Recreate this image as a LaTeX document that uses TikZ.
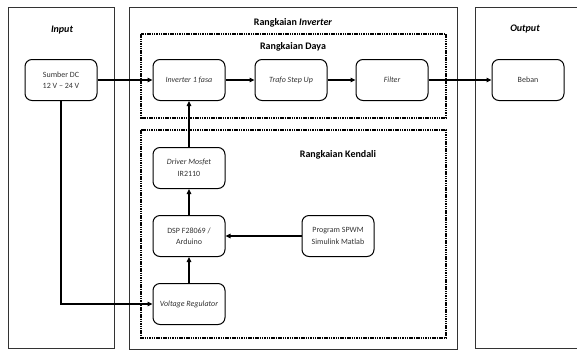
\documentclass[tikz,border=0pt]{standalone}
\usepackage{fontspec}
\setmainfont{Carlito}
\usetikzlibrary{arrows.meta}
\begin{document}
\begin{tikzpicture}[x=1pt,y=-1pt,
  panel/.style={draw=black!80, line width=1pt},
  group/.style={draw=black, line width=1.8pt, dash pattern=on 1.5pt off 0.8pt},
  blk/.style={draw=black, line width=1pt, rounded corners=7pt, minimum width=72pt, minimum height=41pt, align=center, font=\fontsize{8}{11.5}\selectfont, text=black!80},
  ttl/.style={font=\bfseries\fontsize{10}{12}\selectfont},
  arr/.style={draw=black, line width=1.2pt, -{Triangle[length=5pt,width=4.5pt]}}]
\useasboundingbox (0,0) rectangle (577,351);
\clip (0,0) rectangle (577,351);
% panels
\draw[panel] (8,7) rectangle (114,348);
\draw[panel] (129,7) rectangle (457,349);
\draw[panel] (475,7) rectangle (590,348);
% dashed groups
\draw[group] (141,34) rectangle (446,118);
\draw[group] (141,130) rectangle (446,338);
% titles
\node[ttl] (tin) at (62,30) {\itshape Input};
\node[ttl] (tinv) at (293,23) {Rangkaian \textit{Inverter}};
\node[ttl] (tout) at (525,29) {\itshape Output};
\node[ttl] (tdaya) at (293,47) {Rangkaian Daya};
\node[ttl] (tkend) at (338,155) {Rangkaian Kendali};
% blocks
\node[blk] (dc) at (61,80) {Sumber DC\\12 V -- 24 V};
\node[blk] (inv) at (189,80) {\itshape Inverter 1 fasa};
\node[blk] (trafo) at (291,80) {\itshape Trafo Step Up};
\node[blk] (filt) at (392,80) {\itshape Filter};
\node[blk] (beban) at (528,80) {Beban};
\node[blk] (drv) at (189,168) {\textit{Driver Mosfet}\\IR2110};
\node[blk] (dsp) at (189,236) {DSP F28069 /\\Arduino};
\node[blk] (vr) at (189,304) {\itshape Voltage Regulator};
\node[blk] (spwm) at (338,236) {Program SPWM\\Simulink Matlab};
% connectors
\draw[arr] (dc) -- (inv);
\draw[arr] (inv) -- (trafo);
\draw[arr] (trafo) -- (filt);
\draw[arr] (filt) -- (beban);
\draw[arr] (drv) -- (inv);
\draw[arr] (dsp) -- (drv);
\draw[arr] (vr) -- (dsp);
\draw[arr] (spwm) -- (dsp);
\draw[arr] (dc.south) |- (vr.west);
\end{tikzpicture}
\end{document}
